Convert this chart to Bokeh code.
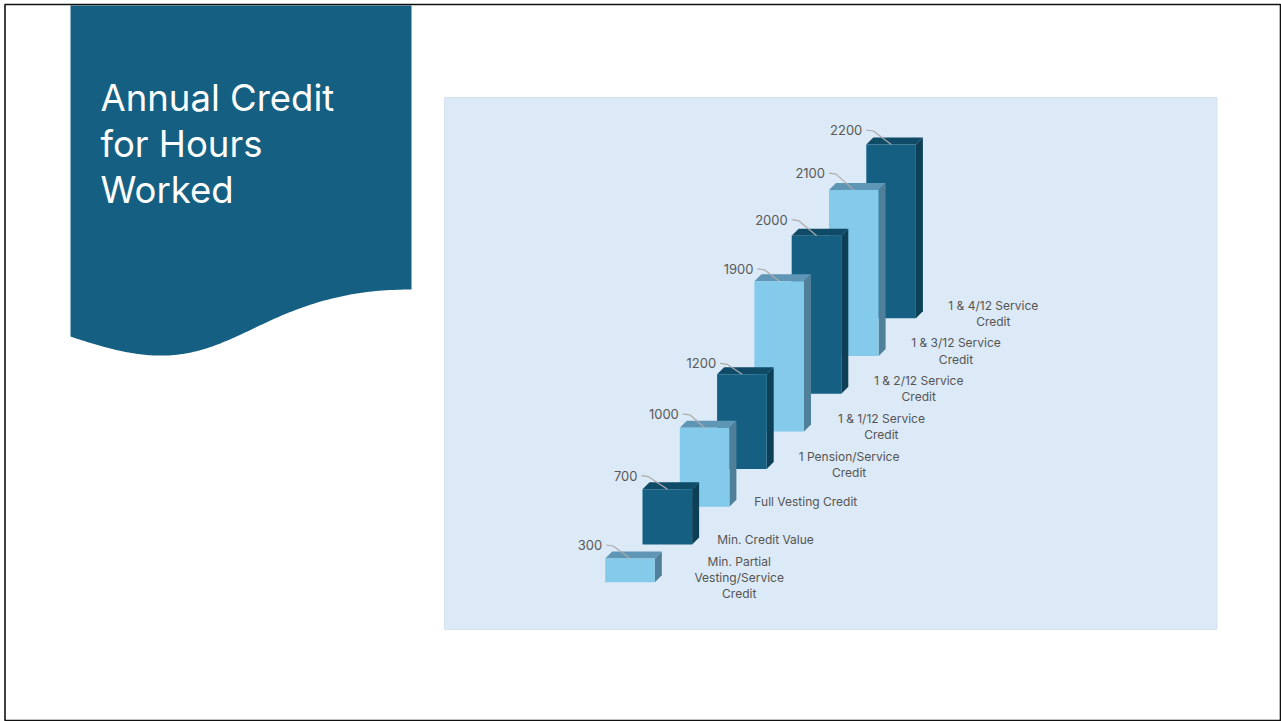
from bokeh.embed import file_html
from bokeh.resources import INLINE
from bokeh.plotting import figure
from bokeh.models import Range1d
from bokeh.core.properties import value

# Chart content
hours = [300, 700, 1000, 1200, 1900, 2000, 2100, 2200]
credits = [
    "Min. Partial\nVesting/Service\nCredit",
    "Min. Credit Value",
    "Full Vesting Credit",
    "1 Pension/Service\nCredit",
    "1 & 1/12 Service\nCredit",
    "1 & 2/12 Service\nCredit",
    "1 & 3/12 Service\nCredit",
    "1 & 4/12 Service\nCredit",
]
heading = ["Annual Credit", "for Hours", "Worked"]

# Hand placement of the labels, in pixels
label_nudge = [134, 123, 126, 132, 127, 127, 127, 127]
value_lift = [13.5, 13.5, 14, 11, 12.5, 16, 17, 14.5]
value_gap = [3, 5, 1, 1, 1, 4, 4, 4]

W, H = 1281, 721

# The staircase: x counts categories, y counts hours; each category also
# climbs the page, which gives the oblique look of a 3-D column chart.
PX_PER_CAT = 37.3
PX_PER_HOUR = 0.079
ORIGIN_X, ORIGIN_Y = 604.7, 581.7
RISE = 37.7 / PX_PER_HOUR          # hours of climb per category
BAR_W = 49.6 / PX_PER_CAT
DEPTH_X = 7 / PX_PER_CAT
DEPTH_Y = 7 / PX_PER_HOUR
PX_X = 1 / PX_PER_CAT
PX_Y = 1 / PX_PER_HOUR

p = figure(
    width=W, height=H, output_backend="svg", toolbar_location=None,
    x_range=Range1d(-ORIGIN_X / PX_PER_CAT, (W - ORIGIN_X) / PX_PER_CAT),
    y_range=Range1d((ORIGIN_Y - H) / PX_PER_HOUR, ORIGIN_Y / PX_PER_HOUR),
    x_axis_location=None, y_axis_location=None,
    min_border=0, outline_line_color=None, background_fill_color="white",
    border_fill_color="white",
)
p.grid.visible = False
p.extra_x_ranges["page"] = Range1d(0, W)
p.extra_y_ranges["page"] = Range1d(H, 0)
page = dict(x_range_name="page", y_range_name="page")


def cubic(p0, p1, p2, p3, n=40):
    pts = []
    for k in range(n + 1):
        t = k / n
        u = 1 - t
        pts.append((
            u**3 * p0[0] + 3 * u * u * t * p1[0] + 3 * u * t * t * p2[0] + t**3 * p3[0],
            u**3 * p0[1] + 3 * u * u * t * p1[1] + 3 * u * t * t * p2[1] + t**3 * p3[1],
        ))
    return pts


# Slide furniture: outer frame, chart panel, heading banner with a wavy foot
p.quad(left=[444], right=[1216.5], top=[97], bottom=[629], fill_color="#DCE9F6",
       line_color="#D6E1EC", line_width=1, **page)
wave = (cubic((70, 336), (108, 349), (138, 356), (165, 355))
        + cubic((165, 355), (205, 354), (235, 336), (270, 320))
        + cubic((270, 320), (320, 297), (362, 289), (411, 289)))
p.patch([70] + [q[0] for q in wave] + [411],
        [5] + [q[1] for q in wave] + [5],
        fill_color="#156082", line_color=None, **page)
p.quad(left=[4.5], right=[1280], top=[4], bottom=[720], fill_color=None,
       line_color="#111111", line_width=1.6, **page)
p.text(x=[100] * 3, y=[97, 143, 189], text=heading, text_color="white",
       text_font=value("Inter"), text_font_size="36.5px",
       text_align="left", text_baseline="middle", **page)

# Faces of the columns, painted from the back of the staircase to the front
FACE = {0: ("#83CAEB", "#6096B5", "#4F7F99"), 1: ("#156082", "#0F4A66", "#0D3F56")}
fx, fy, fc = [], [], []
for i in reversed(range(len(hours))):
    left, right = i, i + BAR_W
    base = i * RISE
    top = base + hours[i]
    front, roof, side = FACE[i % 2]
    fx += [[right, right + DEPTH_X, right + DEPTH_X, right]]
    fy += [[base, base + DEPTH_Y, top + DEPTH_Y, top]]
    fc += [side]
    fx += [[left, right, right + DEPTH_X, left + DEPTH_X]]
    fy += [[top, top, top + DEPTH_Y, top + DEPTH_Y]]
    fc += [roof]
    fx += [[left, right, right, left]]
    fy += [[base, base, top, top]]
    fc += [front]
p.patches(fx, fy, fill_color=fc, line_color=None)

# Leader lines and value labels above each column
tops = [i * RISE + h for i, h in enumerate(hours)]
for i, t in enumerate(tops):
    start = i + (4 - value_gap[i]) * PX_X
    p.line([start, start + 7 * PX_X, i + 25 * PX_X],
           [t + value_lift[i] * PX_Y, t + (value_lift[i] - 1) * PX_Y, t],
           line_color="#ABABAB", line_width=1.2)
p.text(x=[i - value_gap[i] * PX_X for i in range(len(hours))],
       y=[t + value_lift[i] * PX_Y for i, t in enumerate(tops)],
       text=[str(h) for h in hours], text_color="#595959",
       text_font=value("Inter"), text_font_size="13px",
       text_align="right", text_baseline="middle")

# Credit descriptions to the lower right of each column
p.text(x=[i + label_nudge[i] * PX_X for i in range(len(hours))],
       y=[i * RISE + 5 * PX_Y for i in range(len(hours))],
       text=credits, text_color="#555555",
       text_font=value("Inter"), text_font_size="12px", text_line_height=1.07,
       text_align="center", text_baseline="middle")

open("out.html", "w").write(file_html(p, INLINE))
